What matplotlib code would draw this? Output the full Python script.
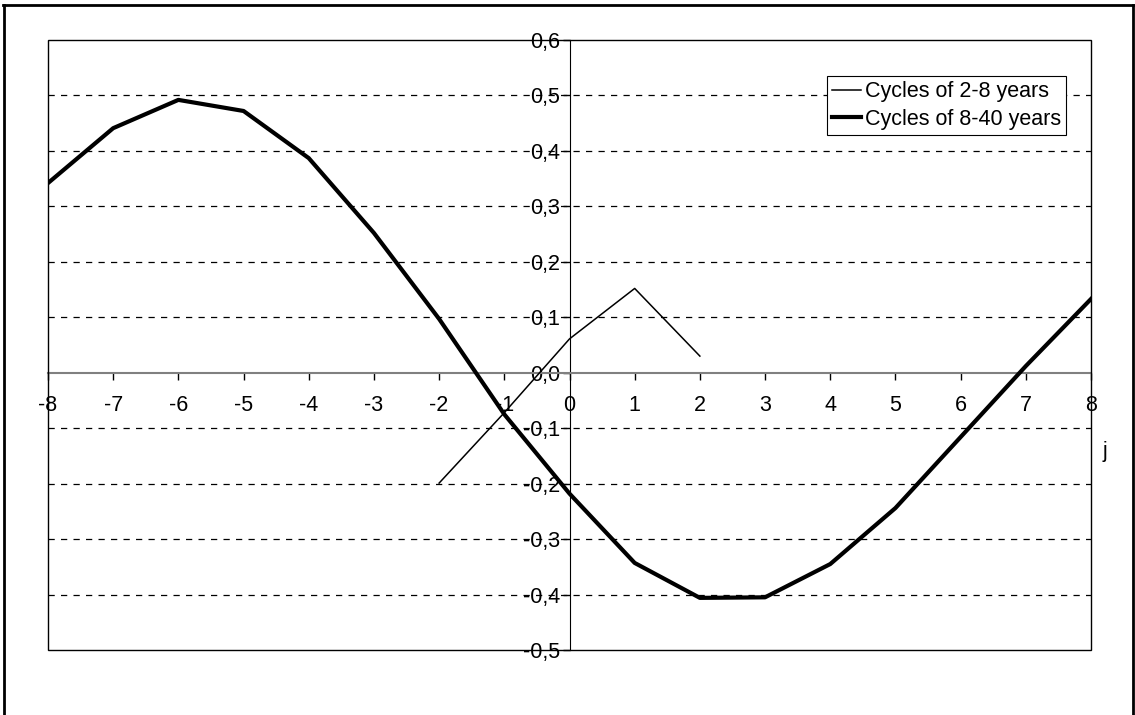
import matplotlib.pyplot as plt
from matplotlib.lines import Line2D
from matplotlib.ticker import FuncFormatter

plt.rcParams['font.family'] = ['Liberation Sans', 'DejaVu Sans']
plt.rcParams['axes.unicode_minus'] = False

# lags j
j_long = [-8, -7, -6, -5, -4, -3, -2, -1, 0, 1, 2, 3, 4, 5, 6, 7, 8]
cycles_8_40 = [0.342, 0.441, 0.492, 0.472, 0.387, 0.252, 0.097, -0.075, -0.218,
               -0.343, -0.406, -0.405, -0.345, -0.244, -0.116, 0.012, 0.133]
j_short = [-2, -1, 0, 1, 2]
cycles_2_8 = [-0.199, -0.072, 0.061, 0.152, 0.030]

x_ticks = list(range(-8, 9))
y_ticks = [-0.5, -0.4, -0.3, -0.2, -0.1, 0.0, 0.1, 0.2, 0.3, 0.4, 0.5, 0.6]

W, H = 1135, 715
fig = plt.figure(figsize=(W / 100, H / 100), dpi=100)
ax = fig.add_axes([48 / W, (H - 650) / H, 1043 / W, 610 / H])

# dashed horizontal gridlines
for yv in y_ticks[1:-1]:
    if yv != 0.0:
        ax.axhline(yv, color='black', lw=0.9, ls=(0, (5, 5)), zorder=1)

ax.plot(j_short, cycles_2_8, color='black', lw=1.1, label='Cycles of 2-8 years', zorder=3)
ax.plot(j_long, cycles_8_40, color='black', lw=3.0, label='Cycles of 8-40 years', zorder=3)

ax.set_xlim(-8, 8)
ax.set_ylim(-0.5, 0.6)

# axes through zero, box around plot area
ax.spines['left'].set_position(('data', 0))
ax.spines['bottom'].set_position(('data', 0))
ax.spines['left'].set_color('black')
ax.spines['bottom'].set_color('#808080')
ax.spines['bottom'].set_linewidth(1.5)
ax.spines['top'].set_visible(False)
ax.spines['right'].set_visible(False)
box = plt.Rectangle((0, 0), 1, 1, transform=ax.transAxes, fill=False,
                    edgecolor='black', lw=1.0, zorder=4, clip_on=False)
ax.add_patch(box)

ax.set_xticks(x_ticks)
ax.set_yticks(y_ticks)
ax.yaxis.set_major_formatter(FuncFormatter(lambda v, p: f"{v:.1f}".replace('.', ',').replace('-0,0', '0,0')))
ax.tick_params(axis='x', direction='out', length=5, width=1, pad=11, labelsize=15.5, color='black')
ax.tick_params(axis='y', direction='out', length=5, width=1, pad=2, labelsize=15.5)

leg = ax.legend(loc='upper left', bbox_to_anchor=(827 / W, 1 - 76 / H),
                bbox_transform=fig.transFigure, fontsize=15.5, frameon=True,
                fancybox=False, edgecolor='black', framealpha=1,
                borderpad=0.25, handlelength=1.35, handletextpad=0.15,
                labelspacing=0.3, borderaxespad=0)
leg.get_frame().set_linewidth(0.8)

fig.text(1105 / W, 1 - 451 / H, 'j', fontsize=15.5, ha='center', va='center')

# page border
fig.add_artist(Line2D([3 / W, 1133 / W], [1 - 5 / H, 1 - 5 / H], color='black', lw=2, transform=fig.transFigure))
fig.add_artist(Line2D([3.5 / W, 3.5 / W], [0, 1 - 5 / H], color='black', lw=2, transform=fig.transFigure))
fig.add_artist(Line2D([1132.5 / W, 1132.5 / W], [0, 1 - 5 / H], color='black', lw=2, transform=fig.transFigure))

fig.savefig('out.png', dpi=100)
